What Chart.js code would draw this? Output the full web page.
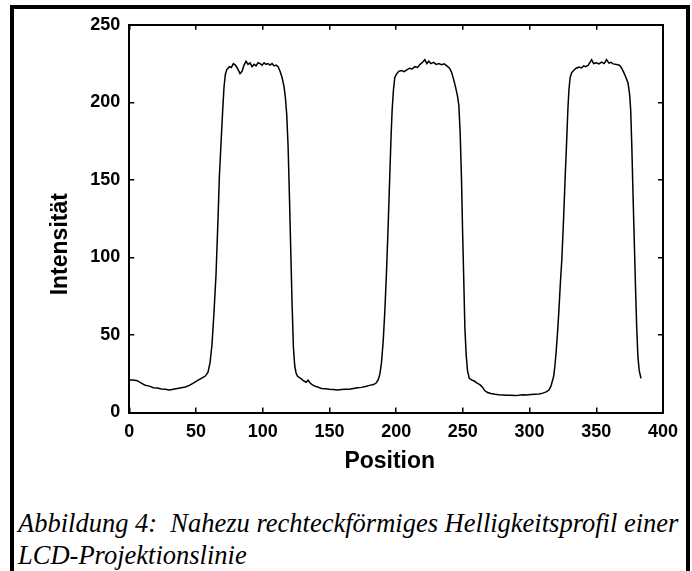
<!DOCTYPE html>
<html>
<head>
<meta charset="utf-8">
<script src="https://cdn.jsdelivr.net/npm/chart.js@4.4.1/dist/chart.umd.min.js"></script>
<style>
html, body { margin: 0; padding: 0; overflow: hidden; background: #fff; width: 692px; height: 571px; }
#frame { position: absolute; left: 10px; top: 5px; width: 672px; height: 620px; border: 4px solid #000; }
#wrap { position: absolute; left: 0; top: 0; width: 692px; height: 480px; }
#caption { position: absolute; left: 18px; top: 507px; font-family: "Liberation Serif", "Times New Roman", serif; font-style: italic; font-size: 26.5px; line-height: 32px; white-space: pre; color: #000; }
</style>
</head>
<body>
<div id="frame"></div>
<div id="wrap"><canvas id="profile"></canvas></div>
<div id="caption">Abbildung 4:  Nahezu rechteckförmiges Helligkeitsprofil einer
LCD-Projektionslinie</div>
<script>
// Helligkeitsprofil
const positions = [
  0, 3, 6, 9, 12, 15, 18, 21, 24, 27, 30, 33, 36, 39, 42, 45, 48, 51, 54, 57,
  59, 60.5, 62, 63.5, 65, 66.5, 67.5, 69, 70, 71, 72, 73, 75, 76.5, 78, 79.5, 81, 83, 84.5, 86,
  87.5, 89, 90.5, 92, 93.5, 95, 96.5, 98, 99.5, 101, 102.5, 104, 105.5, 107, 108.5, 110, 111.5, 113, 114.5, 116,
  117, 118, 119, 120, 121, 122, 123, 124, 125, 126, 127, 128.5, 130.5, 132.5, 134, 135.5, 137, 139, 141, 144,
  147, 150, 153, 156, 159, 162, 165, 168, 171, 174, 177, 180, 183, 185, 186.5, 187.8, 189, 190.3, 191.5, 192.7,
  194, 195.2, 196.2, 197, 198, 199, 200.5, 202, 204, 206, 208, 210, 212, 214, 216, 218, 220, 221.5, 223, 224.5,
  226, 228, 230, 232, 234, 236, 238, 240, 241.5, 243, 244.5, 246, 247, 248, 249, 249.8, 250.7, 251.5, 252.5, 253.5,
  254.8, 256.5, 258.5, 261, 263, 265, 266.5, 268.5, 271, 274, 277, 280, 283, 286, 289, 292, 295, 298, 301, 304,
  307, 310, 312.5, 314.5, 316, 317, 318, 319, 320, 321, 322, 323, 324.2, 325.5, 326.7, 327.8, 328.7, 329.5, 330.4, 331.5,
  333, 335, 337, 339, 340.5, 342, 344, 346.5, 348, 350, 352, 354, 356, 357.7, 359.5, 361, 362.7, 364.5, 366, 367.6,
  369, 370.5, 372, 373.8, 375, 375.8, 376.7, 377.5, 378.5, 379.5, 380.3, 381.2, 382.2, 383.5
];
const intensity = [
  21, 21, 20.5, 19, 17.5, 17, 16, 15.8, 15.2, 15, 14.5, 15, 15.5, 16, 16.5, 17.5, 19, 20.5, 22, 23.5,
  26, 32, 44, 65, 89, 125, 152, 178, 195, 210, 218, 221, 223, 222.5, 225, 224, 222, 218.5, 220, 224,
  226.5, 224.5, 225.5, 223, 224.5, 223.5, 225.5, 225, 224, 225.5, 224.5, 225, 224, 225, 223.5, 224, 223, 220, 216, 210,
  203, 192, 172, 140, 105, 70, 42, 30, 25.5, 23.5, 22.8, 22, 20.5, 19.5, 20.8, 19, 18, 17, 16.5, 15.5,
  15.3, 15, 14.8, 14.5, 14.8, 15, 15, 15.5, 16, 16.2, 16.8, 17.5, 18, 19, 21, 24.7, 32, 46, 65, 89,
  120, 152, 178, 195, 208, 216, 218.5, 220, 220.5, 219.8, 221, 222, 221.5, 223, 222.5, 224.5, 226, 227.5, 225, 226.5,
  225, 225.8, 224.5, 225, 224.3, 224.8, 223.5, 222, 219.5, 215, 210, 204, 198, 180, 150, 117, 85, 55, 37, 27,
  22, 21, 20.3, 18.8, 17.8, 16, 14, 12.9, 12.2, 11.8, 11.5, 11.3, 11.1, 11.2, 11, 11.2, 11.5, 11.3, 11.6, 11.8,
  12, 12.5, 13.3, 14.5, 17, 20, 23, 30, 40, 52, 66, 82, 99, 125, 152, 175, 195, 208, 216, 219,
  220.5, 222, 222.8, 222.2, 223.5, 223, 224, 227.5, 225, 225.5, 224.8, 226, 225, 227.5, 225.3, 225.8, 224.8, 224.5, 224.3, 223.8,
  222, 219.5, 216.5, 212.5, 205, 195, 170, 142, 110, 78, 55, 36, 27, 22
];
const xTicks = [0, 50, 100, 150, 200, 250, 300, 350, 400];
const yTicks = [0, 50, 100, 150, 200, 250];

const points = positions.map((p, i) => ({ x: p, y: intensity[i] }));

const tickFont = { family: 'Liberation Sans', weight: 'bold', size: 18 };
const titleFont = { family: 'Liberation Sans', weight: 'bold', size: 23 };

function fixedTicks(list) {
  return function (scale) {
    scale.ticks = list.map(v => ({ value: v }));
  };
}

new Chart(document.getElementById('profile'), {
  type: 'line',
  data: {
    datasets: [{
      data: points,
      borderColor: '#000',
      borderWidth: 1.5,
      pointRadius: 0,
      tension: 0,
      fill: false
    }]
  },
  options: {
    responsive: true,
    maintainAspectRatio: false,
    animation: false,
    layout: { padding: { top: 19.5, right: 24.7, left: 0, bottom: 0 } },
    plugins: { legend: { display: false }, tooltip: { enabled: false } },
    scales: {
      x: {
        type: 'linear', position: 'bottom', min: 0, max: 400,
        afterBuildTicks: fixedTicks(xTicks),
        afterFit: s => { s.height = 67.5; },
        ticks: { color: '#000', font: tickFont, padding: 14, maxRotation: 0, autoSkip: false },
        grid: { drawOnChartArea: false, tickLength: -5, color: '#000', lineWidth: 1.5 },
        border: { color: '#000', width: 2 },
        title: { display: true, text: 'Position  ', color: '#000', font: titleFont, padding: { top: 0, bottom: 5 } }
      },
      x2: {
        type: 'linear', position: 'top', min: 0, max: 400,
        afterBuildTicks: fixedTicks(xTicks),
        afterFit: s => { s.height = 0; },
        ticks: { display: false },
        grid: { drawOnChartArea: false, tickLength: -5, color: '#000', lineWidth: 1.5 },
        border: { color: '#000', width: 2 }
      },
      y: {
        type: 'linear', position: 'left', min: 0, max: 250,
        afterBuildTicks: fixedTicks(yTicks),
        afterFit: s => { s.width = 129.3; },
        ticks: { color: '#000', font: tickFont, padding: 14 },
        grid: { drawOnChartArea: false, tickLength: -5, color: '#000', lineWidth: 1.5 },
        border: { color: '#000', width: 2 },
        title: { display: true, text: 'Intensität        ', color: '#000', font: titleFont, padding: { top: 47, bottom: 0 } }
      },
      y2: {
        type: 'linear', position: 'right', min: 0, max: 250,
        afterBuildTicks: fixedTicks(yTicks),
        afterFit: s => { s.width = 0; },
        ticks: { display: false },
        grid: { drawOnChartArea: false, tickLength: -5, color: '#000', lineWidth: 1.5 },
        border: { color: '#000', width: 2 }
      }
    }
  }
});
</script>
</body>
</html>
